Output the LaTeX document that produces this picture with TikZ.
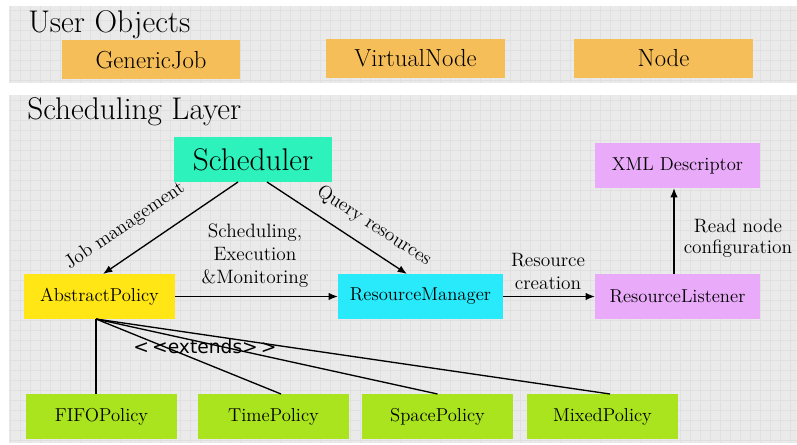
\documentclass[tikz,border=0pt]{standalone}
\usepackage{fontspec}
\newfontfamily\extfont{DejaVu Sans}
\usetikzlibrary{arrows.meta,calc}
\definecolor{panelgray}{RGB}{234,234,234}
\definecolor{gridgray}{RGB}{224,224,224}
\definecolor{uorange}{RGB}{246,190,88}
\definecolor{schgreen}{RGB}{45,242,188}
\definecolor{apyellow}{RGB}{255,230,20}
\definecolor{rmcyan}{RGB}{40,234,250}
\definecolor{rlpink}{RGB}{234,170,250}
\definecolor{polgreen}{RGB}{170,228,30}
\tikzset{
  box/.style={inner sep=0pt, outer sep=0pt, text=black},
  userbox/.style={box, fill=uorange, minimum width=178.5*0.75pt, minimum height=39*0.75pt, font=\fontsize{18.5}{20}\selectfont},
  mainbox/.style={box, minimum width=158*0.75pt, minimum height=45*0.75pt, font=\fontsize{14}{17}\selectfont},
  polbox/.style={box, fill=polgreen, minimum width=151*0.75pt, minimum height=45*0.75pt, font=\fontsize{14}{17}\selectfont},
  conn/.style={line width=1pt, black},
  arr/.style={conn, -{Latex[length=7pt,width=5.5pt]}},
  elabel/.style={align=center, font=\fontsize{14.5}{17}\selectfont, inner sep=0pt},
  title/.style={anchor=base west, inner sep=0pt, font=\fontsize{23.5}{26}\selectfont},
}
\begin{document}
\begin{tikzpicture}[x=0.75pt,y=-0.75pt]
\useasboundingbox (0,0) rectangle (797,445);
% panels
\fill[panelgray] (9,6) rectangle (797,83);
\fill[panelgray] (9,95) rectangle (797,443);
\begin{scope}
\clip (9,6) rectangle (797,83);
\draw[gridgray, line width=0.3pt, step=7.5pt] (9,6) grid (797,83);
\end{scope}
\begin{scope}
\clip (9,95) rectangle (797,443);
\draw[gridgray, line width=0.3pt, step=7.5pt] (9,95) grid (797,443);
\end{scope}
% titles
\node[title] (t1) at (28,33) {User Objects};
\node[title] (t2) at (27,120) {Scheduling Layer};
% user objects
\node[userbox] (gj) at (151,60) {GenericJob};
\node[userbox] (vn) at (415.5,58.5) {VirtualNode};
\node[userbox] (nd) at (663.5,58.5) {Node};
% main boxes
\node[mainbox, fill=schgreen, font=\fontsize{23.5}{26}\selectfont] (sch) at (253,159.5) {Scheduler};
\node[mainbox, fill=rlpink, minimum width=165*0.75pt] (xml) at (677.5,165.5) {XML Descriptor};
\node[mainbox, fill=apyellow, minimum width=151*0.75pt] (ap) at (99.5,296.5) {AbstractPolicy};
\node[mainbox, fill=rmcyan, minimum width=165*0.75pt] (rm) at (420.5,296.5) {ResourceManager};
\node[mainbox, fill=rlpink, minimum width=165*0.75pt] (rl) at (677.5,296.5) {ResourceListener};
% policies
\node[polbox] (fifo) at (101.5,416.5) {FIFOPolicy};
\node[polbox] (time) at (273.5,416.5) {TimePolicy};
\node[polbox] (space) at (437.5,416.5) {SpacePolicy};
\node[polbox] (mixed) at (602.5,416.5) {MixedPolicy};
% connectors
\draw[arr] ($(sch.south)+(-15,0)$) -- ($(ap.north)+(3.5,0)$);
\draw[arr] ($(sch.south)+(14,0)$) -- ($(rm.north)+(-13.5,0)$);
\draw[arr] (ap.east) -- (rm.west);
\draw[arr] (rm.east) -- (rl.west);
\draw[arr] ($(rl.north)+(-3.5,0)$) -- ($(xml.south)+(-3.5,0)$);
\coordinate (apb) at ($(ap.south)+(-3.5,0)$);
\draw[conn] (apb) -- ($(fifo.north)+(-5.5,0)$);
\draw[conn] (apb) -- ($(time.north)+(7.5,0)$);
\draw[conn] (apb) -- (space.north);
\draw[conn] (apb) -- ($(mixed.north)+(7.5,0)$);
% labels
\node[elabel, rotate=34.3] (ljm) at (125,226) {Job management};
\node[elabel, rotate=-33] (lqr) at (374,226) {Query resources};
\node[elabel, font=\fontsize{14.5}{17.25}\selectfont] (lsem) at (255,256) {Scheduling,\\Execution\\\&Monitoring};
\node[elabel, font=\fontsize{14.5}{17.25}\selectfont] (lrc) at (548,271) {Resource\\creation};
\node[elabel, font=\fontsize{14.5}{16}\selectfont] (lrn) at (738,238) {Read node\\configuration};
\node[inner sep=0pt, font=\extfont\fontsize{14}{15}\selectfont] (lext) at (205,347) {<\,<extends>\,>};
\end{tikzpicture}
\end{document}
